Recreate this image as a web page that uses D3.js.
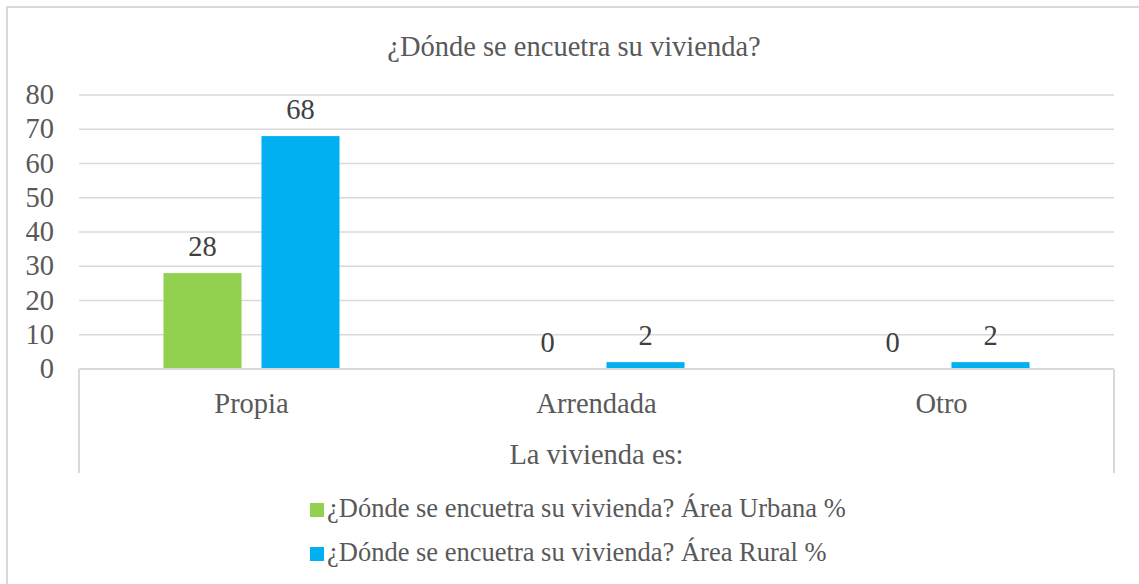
<!DOCTYPE html>
<html>
<head>
<meta charset="utf-8">
<script src="https://cdn.jsdelivr.net/npm/d3@7"></script>
</head>
<body style="margin:0">
<script>
const categories = ["Propia", "Arrendada", "Otro"];
const urbana = [28, 0, 0];
const rural = [68, 2, 2];
const yTicks = [0, 10, 20, 30, 40, 50, 60, 70, 80];
const seriesNames = [
    "¿Dónde se encuetra su vivienda? Área Urbana %",
    "¿Dónde se encuetra su vivienda? Área Rural %"
];
const seriesColors = ["#92d050", "#00b0f0"];

const FONT = "'Liberation Serif'";

function addText(sel, size, color) {
    return sel.append("text")
        .style("font-family", FONT)
        .style("font-size", size + "px")
        .attr("fill", color || "#595959");
}

const W = 1139, H = 584;
const margin = { top: 95, left: 79, right: 25, bottom: 215 };
const width = W - margin.left - margin.right;
const height = H - margin.top - margin.bottom;

const svg = d3.select("body").append("svg")
    .attr("width", W)
    .attr("height", H);

// outer chart border (clipped on right/bottom)
svg.append("rect")
    .attr("x", 7).attr("y", 7)
    .attr("width", W + 20).attr("height", H + 20)
    .attr("fill", "none")
    .attr("stroke", "#d9d9d9")
    .attr("stroke-width", 2);

addText(svg, 28.5)
    .attr("x", 574).attr("y", 56)
    .attr("text-anchor", "middle")
    .text("¿Dónde se encuetra su vivienda?");

const g = svg.append("g")
    .attr("transform", "translate(" + margin.left + "," + margin.top + ")");

const barW = 78, gap = 20;
const x0 = d3.scaleBand().domain(categories).range([0, width]);
const x1 = d3.scaleOrdinal().domain([0, 1]).range([0, barW + gap]);
const y = d3.scaleLinear().domain([0, 80]).range([height, 0]);

// gridlines
g.selectAll(".grid")
    .data(yTicks.slice(1))
    .enter().append("line")
    .attr("x1", 0).attr("x2", width)
    .attr("y1", d => y(d)).attr("y2", d => y(d))
    .attr("stroke", "#d9d9d9")
    .attr("stroke-width", 1.5);

// y axis labels
yTicks.forEach(t => {
    addText(g, 28.5)
        .attr("x", -25)
        .attr("y", y(t) + 9)
        .attr("text-anchor", "end")
        .text(t);
});

const series = [urbana, rural];
categories.forEach((c, i) => {
    const cx = x0(c) + x0.bandwidth() / 2 - (barW + gap / 2);
    series.forEach((s, k) => {
        const v = s[i];
        const bx = cx + x1(k);
        if (v > 0) {
            g.append("rect")
                .attr("x", bx)
                .attr("y", y(v))
                .attr("width", barW)
                .attr("height", height - y(v))
                .attr("fill", seriesColors[k]);
        }
        addText(g, 28.5, "#404040")
            .attr("x", bx + barW / 2)
            .attr("y", y(v) - 17)
            .attr("text-anchor", "middle")
            .text(v);
    });
});

// category axis box
const axisColor = "#d9d9d9";
g.append("line")
    .attr("x1", 0).attr("x2", width)
    .attr("y1", height).attr("y2", height)
    .attr("stroke", axisColor).attr("stroke-width", 2);
[0, width].forEach(xx => {
    g.append("line")
        .attr("x1", xx).attr("x2", xx)
        .attr("y1", height).attr("y2", height + 104)
        .attr("stroke", axisColor).attr("stroke-width", 2);
});

categories.forEach(c => {
    addText(g, 28.5)
        .attr("x", x0(c) + x0.bandwidth() / 2)
        .attr("y", height + 44)
        .attr("text-anchor", "middle")
        .text(c);
});

addText(g, 28.5)
    .attr("x", width / 2)
    .attr("y", height + 95)
    .attr("text-anchor", "middle")
    .text("La vivienda es:");

// legend
seriesNames.forEach((name, i) => {
    const lg = svg.append("g")
        .attr("transform", "translate(310," + (503 + i * 44) + ")");
    lg.append("rect")
        .attr("width", 14).attr("height", 14)
        .attr("fill", seriesColors[i]);
    addText(lg, 26.5)
        .attr("x", 17).attr("y", 14)
        .text(name);
});
</script>
</body>
</html>
